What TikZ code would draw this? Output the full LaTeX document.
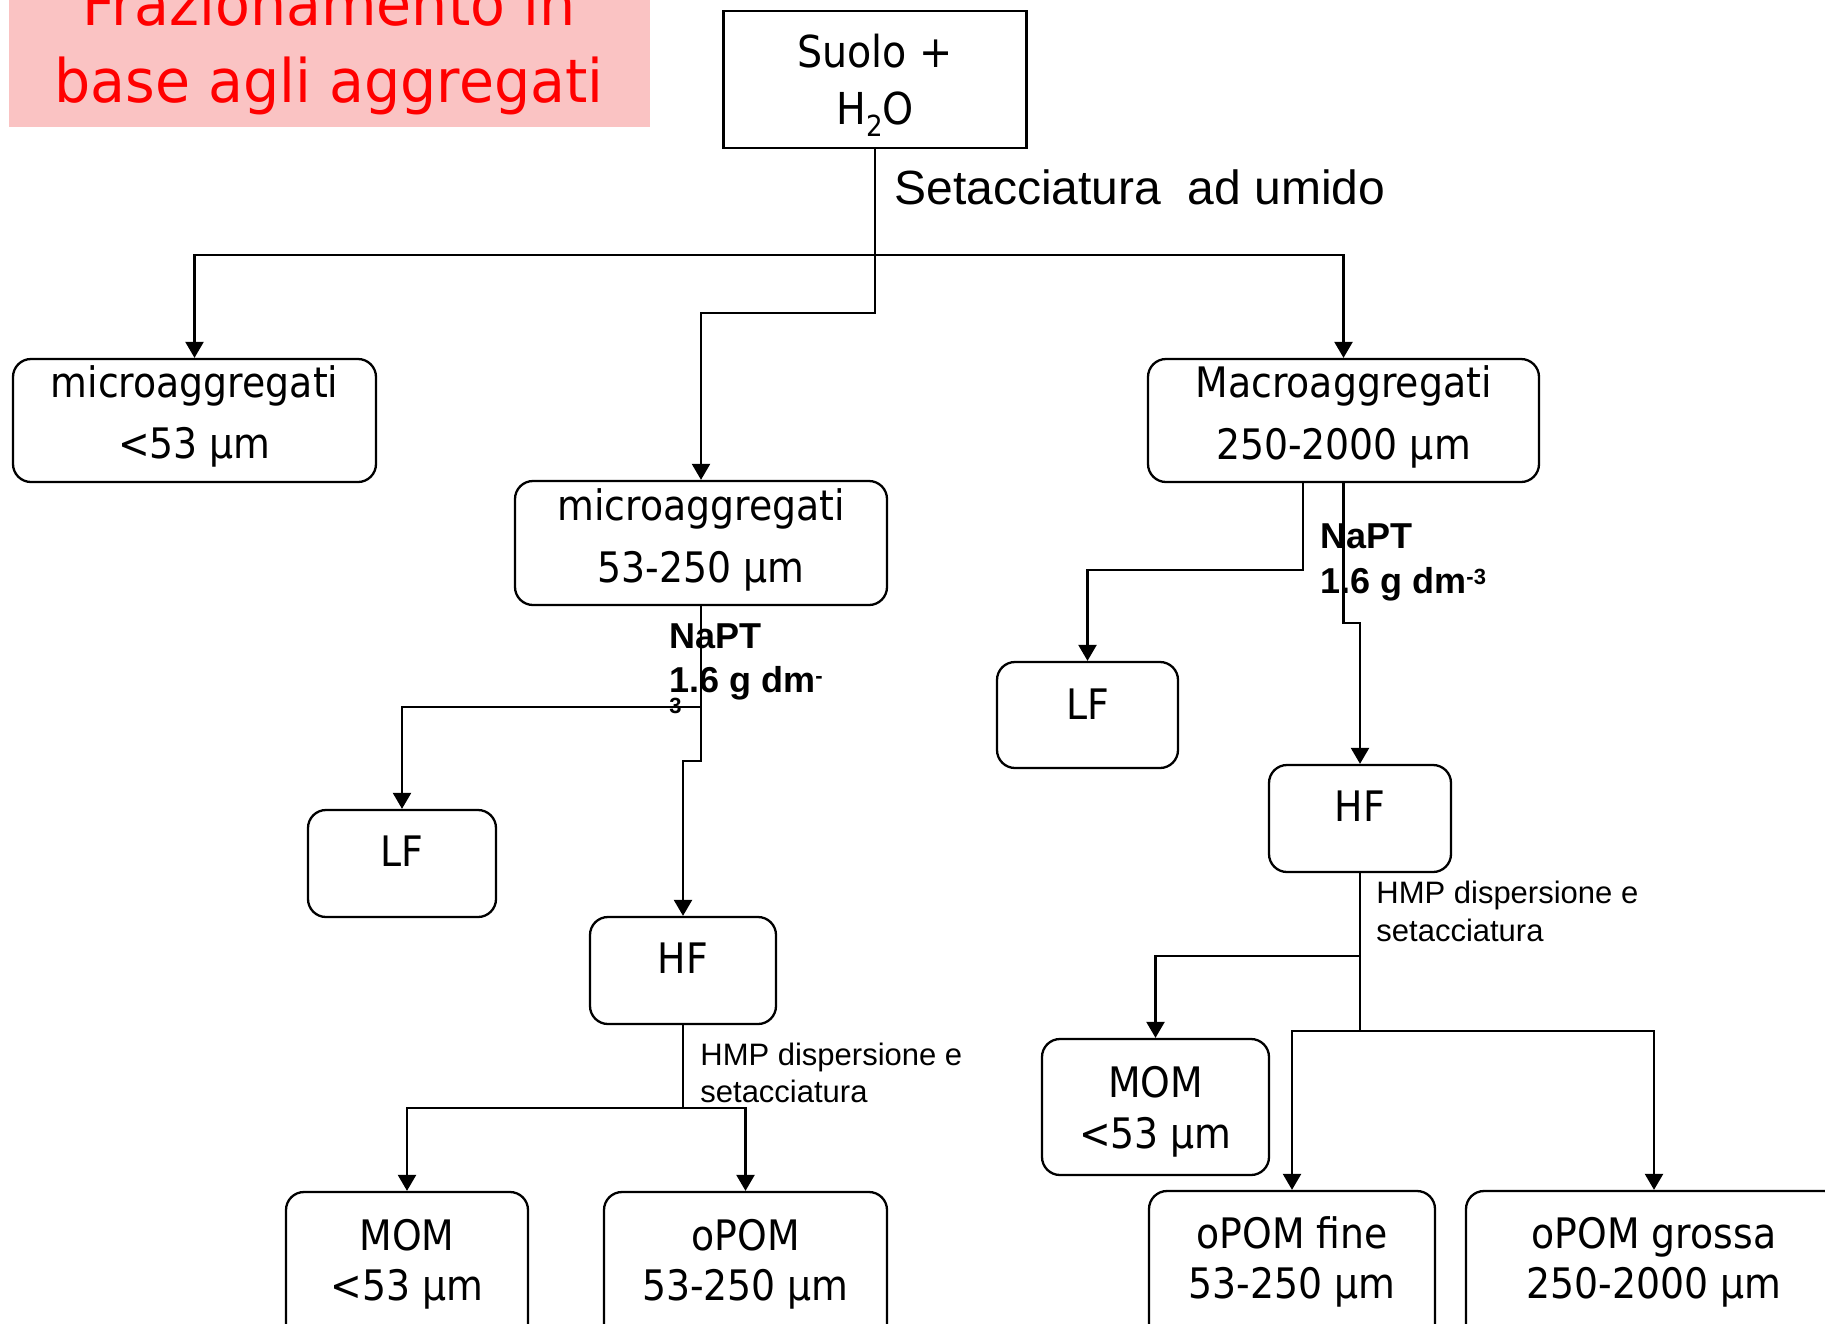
\documentclass[tikz,border=0pt]{standalone}
\usepackage{fontspec}
\usetikzlibrary{arrows.meta}
\newfontfamily\boxfont[FakeStretch=0.9]{DejaVu Sans}
\newfontfamily\arialfont{Liberation Sans}
\newfontfamily\titlefont[FakeStretch=0.95]{DejaVu Sans}
\definecolor{titlered}{RGB}{255,0,0}
\definecolor{titlebg}{RGB}{250,195,195}
\newcommand\mysup[1]{\raisebox{4.5pt}{\fontsize{11pt}{11pt}\selectfont #1}}
\newcommand\mysub[1]{\raisebox{-6pt}{\fontsize{14.5pt}{14.5pt}\selectfont #1}}
\begin{document}
\begin{tikzpicture}[x=0.5pt,y=-0.5pt,
  rbox/.style={draw,line width=1.15pt,rounded corners=9pt,inner sep=0pt},
  sbox/.style={draw,line width=1.15pt,inner sep=0pt},
  btxt/.style={font=\boxfont\fontsize{21pt}{25pt}\selectfont,inner sep=0pt,anchor=base},
  ttxt/.style={font=\titlefont\fontsize{30pt}{36pt}\selectfont,text=titlered,inner sep=0pt,anchor=base},
  setac/.style={font=\arialfont\fontsize{24pt}{28pt}\selectfont,inner sep=0pt,anchor=base west},
  napt/.style={font=\arialfont\bfseries\fontsize{18pt}{22pt}\selectfont,inner sep=0pt,anchor=base west},
  hmp/.style={font=\arialfont\fontsize{15.5pt}{19pt}\selectfont,inner sep=0pt,anchor=base west},
  conn/.style={line width=1.2pt},
  arr/.style={conn,-{Triangle[width=9pt,length=8pt]}}]
\useasboundingbox (0,0) rectangle (1825,1323);
\clip (0,0) rectangle (1825,1323);

% title
\node[fill=titlebg,inner sep=0pt,minimum width=320.5pt,minimum height=63.5pt,anchor=north west] (titlebox) at (9,0) {};
\node[ttxt] (title1) at (329,25) {Frazionamento in};
\node[ttxt] (title2) at (329,102) {base agli aggregati};

% boxes
\node[sbox,minimum width=151.5pt,minimum height=68.5pt] (suolo) at (875,79.5) {};
\node[btxt,font=\boxfont\fontsize{22pt}{26pt}\selectfont] (suolo1) at (875,67) {Suolo +};
\node[btxt,font=\boxfont\fontsize{22pt}{26pt}\selectfont] (suolo2) at (875,124) {H\mysub{2}O};

\node[rbox,minimum width=181.5pt,minimum height=61.5pt] (mic1) at (194.5,420.5) {};
\node[btxt] (mic1a) at (194.5,397) {microaggregati};
\node[btxt] (mic1b) at (194.5,458) {<53 μm};

\node[rbox,minimum width=186pt,minimum height=62pt] (mic2) at (701,543) {};
\node[btxt] (mic2a) at (701,520) {microaggregati};
\node[btxt] (mic2b) at (701,582) {53-250 μm};

\node[rbox,minimum width=195.5pt,minimum height=61.5pt] (macro) at (1343.5,420.5) {};
\node[btxt] (macroa) at (1343.5,397) {Macroaggregati};
\node[btxt] (macrob) at (1343.5,459) {250-2000 μm};

\node[rbox,minimum width=94pt,minimum height=53.5pt] (lf1) at (402,863.5) {};
\node[btxt] (lf1a) at (402,866) {LF};
\node[rbox,minimum width=93pt,minimum height=53.5pt] (hf1) at (683,970.5) {};
\node[btxt] (hf1a) at (683,973) {HF};

\node[rbox,minimum width=90.5pt,minimum height=53pt] (lf2) at (1087.5,715) {};
\node[btxt] (lf2a) at (1087.5,719) {LF};
\node[rbox,minimum width=91pt,minimum height=53.5pt] (hf2) at (1360,818.5) {};
\node[btxt] (hf2a) at (1360,821) {HF};

\node[rbox,minimum width=113.5pt,minimum height=68pt] (mom2) at (1155.5,1107) {};
\node[btxt] (mom2a) at (1155.5,1097) {MOM};
\node[btxt] (mom2b) at (1155.5,1148) {<53 μm};

\node[rbox,minimum width=121pt,minimum height=84pt] (mom1) at (407,1276) {};
\node[btxt] (mom1a) at (407,1250) {MOM};
\node[btxt] (mom1b) at (407,1300) {<53 μm};

\node[rbox,minimum width=141.5pt,minimum height=84pt] (opom1) at (745.5,1276) {};
\node[btxt] (opom1a) at (745.5,1250) {oPOM};
\node[btxt] (opom1b) at (745.5,1300) {53-250 μm};

\node[rbox,minimum width=143pt,minimum height=84.5pt] (opomf) at (1292,1275.5) {};
\node[btxt] (opomfa) at (1292,1248) {oPOM fine};
\node[btxt] (opomfb) at (1292,1298) {53-250 μm};

\node[rbox,minimum width=188pt,minimum height=84.5pt] (opomg) at (1654,1275.5) {};
\node[btxt] (opomga) at (1654,1248) {oPOM grossa};
\node[btxt] (opomgb) at (1654,1298) {250-2000 μm};

% labels
\node[setac] (setaclbl) at (894,204) {Setacciatura\ \ ad umido};
\node[napt] (napt1a) at (669,648) {NaPT};
\node[napt] (napt1b) at (669,692) {1.6 g dm\mysup{-}};
\node[napt,font=\arialfont\bfseries\fontsize{11pt}{13pt}\selectfont] (napt1c) at (669,713) {3};
\node[napt] (napt2a) at (1320,548) {NaPT};
\node[napt] (napt2b) at (1320,593) {1.6 g dm\mysup{-3}};
\node[hmp] (hmp1a) at (700,1065) {HMP dispersione e};
\node[hmp] (hmp1b) at (700,1102) {setacciatura};
\node[hmp] (hmp2a) at (1376,903) {HMP dispersione e};
\node[hmp] (hmp2b) at (1376,941) {setacciatura};

% connectors
\coordinate (j0) at (875,255);
\coordinate (j1) at (875,313);
\draw[conn] (suolo.south) -- (j0);
\draw[arr] (j0) -| (mic1.north);
\draw[arr] (j0) -| (macro.north);
\draw[arr] (j0) -- (j1) -| (mic2.north);

\coordinate (j2) at (701,707);
\coordinate (j3) at (701,761);
\draw[arr] (mic2.south) -- (j3) -| (hf1.north);
\draw[arr] (j2) -| (lf1.north);

\coordinate (m1) at (1303,482);
\coordinate (j4) at (1303,570);
\coordinate (j5) at (1343.5,623);
\draw[arr] (m1) -- (j4) -| (lf2.north);
\draw[arr] (macro.south) -- (j5) -| (hf2.north);

\coordinate (j6) at (683,1108);
\draw[conn] (hf1.south) -- (j6);
\draw[arr] (j6) -| (mom1.north);
\draw[arr] (j6) -| (opom1.north);

\coordinate (j7) at (1360,956);
\coordinate (j8) at (1360,1031);
\draw[conn] (hf2.south) -- (j8);
\draw[arr] (j7) -| (mom2.north);
\draw[arr] (j8) -| (opomf.north);
\draw[arr] (j8) -| (opomg.north);
\end{tikzpicture}
\end{document}
